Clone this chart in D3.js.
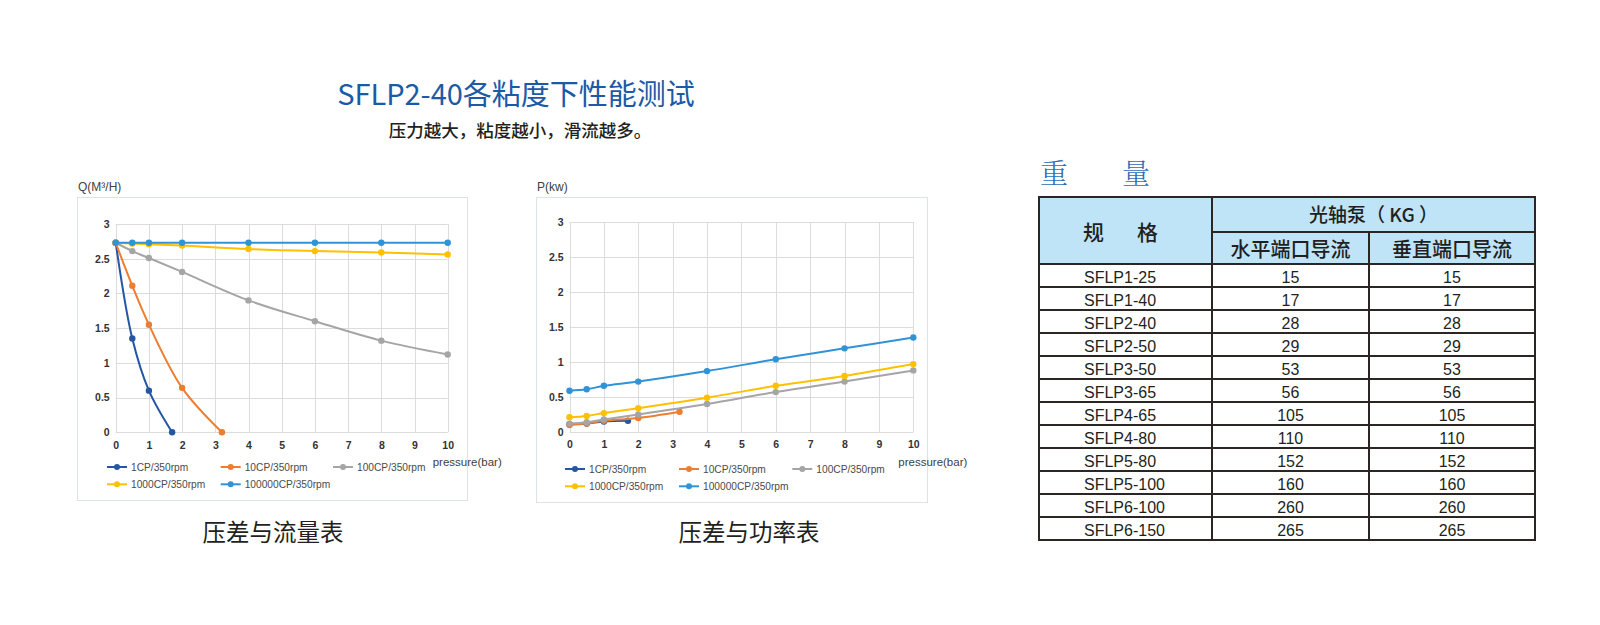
<!DOCTYPE html>
<html>
<head>
<meta charset="utf-8">
<script src="https://cdn.jsdelivr.net/npm/d3@7"></script>
<style>
  body { margin: 0; background: #fff; }
  svg { display: block; }
</style>
</head>
<body>
<svg id="page" width="1600" height="625"></svg>
<script>
(function () {
  "use strict";

  // --- Data ---
  const seriesNames = ["1CP/350rpm", "10CP/350rpm", "100CP/350rpm", "1000CP/350rpm", "100000CP/350rpm"];

  const pressure1CP = [0, 0.5, 1, 1.7];
  const pressure10CP = [0, 0.5, 1, 2, 3.2];
  const pressureFull = [0, 0.5, 1, 2, 4, 6, 8, 10];

  const flow1CP = [2.73, 1.35, 0.6, 0];
  const flow10CP = [2.73, 2.11, 1.55, 0.64, 0];
  const flow100CP = [2.73, 2.61, 2.51, 2.31, 1.9, 1.6, 1.32, 1.12];
  const flow1000CP = [2.73, 2.72, 2.71, 2.69, 2.64, 2.61, 2.59, 2.56];
  const flow100000CP = [2.73, 2.73, 2.73, 2.73, 2.73, 2.73, 2.73, 2.73];

  const power1CP = [0.11, 0.12, 0.15, 0.16];
  const power10CP = [0.1, 0.12, 0.16, 0.2, 0.29];
  const power100CP = [0.12, 0.14, 0.18, 0.25, 0.4, 0.57, 0.72, 0.88];
  const power1000CP = [0.21, 0.23, 0.27, 0.34, 0.49, 0.66, 0.8, 0.97];
  const power100000CP = [0.59, 0.61, 0.66, 0.72, 0.87, 1.04, 1.195, 1.35];

  const xTicks = [0, 1, 2, 3, 4, 5, 6, 7, 8, 9, 10];
  const yTicks = [0, 0.5, 1, 1.5, 2, 2.5, 3];

  const models = ["SFLP1-25", "SFLP1-40", "SFLP2-40", "SFLP2-50", "SFLP3-50", "SFLP3-65",
    "SFLP4-65", "SFLP4-80", "SFLP5-80", "SFLP5-100", "SFLP6-100", "SFLP6-150"];
  const weightHorizontal = [15, 17, 28, 29, 53, 56, 105, 110, 152, 160, 260, 265];
  const weightVertical = [15, 17, 28, 29, 53, 56, 105, 110, 152, 160, 260, 265];

  // --- Styles ---
  const seriesColors = ["#2556a6", "#ed7d31", "#a5a5a5", "#ffc000", "#3093d8"];
  const gridColor = "#dcdcdc";
  const sans = "Arial, 'Liberation Sans', sans-serif";
  const cjk = "'Noto Sans CJK SC', 'Noto Sans', sans-serif";

  const svg = d3.select("#page");

  // --- Headline ---
  svg.append("text")
    .attr("x", 516).attr("y", 95).attr("dy", "0.35em")
    .attr("text-anchor", "middle")
    .attr("font-family", cjk).attr("font-size", 29)
    .attr("fill", "#1b5aa7")
    .text("SFLP2-40各粘度下性能测试");

  svg.append("text")
    .attr("x", 520).attr("y", 131).attr("dy", "0.35em")
    .attr("text-anchor", "middle")
    .attr("font-family", cjk).attr("font-size", 17.5).attr("font-weight", 500)
    .attr("fill", "#231f20")
    .text("压力越大，粘度越小，滑流越多。");

  // --- Line chart ---
  function drawChart(cfg) {
    const g = svg.append("g");

    g.append("rect")
      .attr("x", cfg.frame[0] + 0.5).attr("y", cfg.frame[1] + 0.5)
      .attr("width", cfg.frame[2] - cfg.frame[0]).attr("height", cfg.frame[3] - cfg.frame[1])
      .attr("fill", "#fff").attr("stroke", "#dde1e8");

    const x = d3.scaleLinear().domain([0, 10]).range(cfg.xRange);
    const y = d3.scaleLinear().domain([0, 3]).range(cfg.yRange);

    // grid
    g.append("g").selectAll("line").data(xTicks).join("line")
      .attr("x1", (d) => Math.round(x(d)) + 0.5).attr("x2", (d) => Math.round(x(d)) + 0.5)
      .attr("y1", y(3)).attr("y2", y(0))
      .attr("stroke", gridColor);
    g.append("g").selectAll("line").data(yTicks).join("line")
      .attr("x1", x(0)).attr("x2", x(10))
      .attr("y1", (d) => Math.round(y(d)) + 0.5).attr("y2", (d) => Math.round(y(d)) + 0.5)
      .attr("stroke", gridColor);

    // axes (labels only)
    const xAxis = g.append("g")
      .attr("transform", `translate(0,${y(0) + 6})`)
      .call(d3.axisBottom(x).tickValues(xTicks).tickSize(0).tickFormat(d3.format("d")));
    const yAxis = g.append("g")
      .attr("transform", `translate(${x(0) - 3},0)`)
      .call(d3.axisLeft(y).tickValues(yTicks).tickSize(0).tickFormat((d) => String(d)));
    [xAxis, yAxis].forEach((a) => {
      a.select(".domain").remove();
      a.selectAll("text")
        .attr("font-family", sans).attr("font-size", 10.5).attr("font-weight", "bold")
        .attr("fill", "#333");
    });

    g.append("text")
      .attr("x", cfg.frame[0] + 1).attr("y", cfg.frame[1] - 6)
      .attr("font-family", sans).attr("font-size", 12).attr("fill", "#404040")
      .text(cfg.yLabel);

    g.append("text")
      .attr("x", x(10) - 15).attr("y", y(0) + 30).attr("dy", "0.35em")
      .attr("font-family", sans).attr("font-size", 11.5).attr("fill", "#404040")
      .text("pressure(bar)");

    // series
    const line = d3.line()
      .x((d) => x(d[0])).y((d) => y(d[1]))
      .curve(d3.curveCatmullRom.alpha(0.5));

    cfg.series.forEach((s, i) => {
      const pts = s.px.map((p, j) => [p, s.values[j]]);
      const sg = g.append("g");
      sg.append("path")
        .attr("d", line(pts))
        .attr("fill", "none")
        .attr("stroke", seriesColors[i])
        .attr("stroke-width", 2);
      sg.selectAll("circle").data(pts).join("circle")
        .attr("cx", (d) => x(d[0])).attr("cy", (d) => y(d[1]))
        .attr("r", 3.2)
        .attr("fill", seriesColors[i]);
    });

    // legend: three per row
    const lg = g.append("g");
    seriesNames.forEach((name, i) => {
      const lx = cfg.legendCols[i % 3];
      const ly = cfg.legendRows[Math.floor(i / 3)];
      lg.append("line")
        .attr("x1", lx).attr("x2", lx + 20).attr("y1", ly).attr("y2", ly)
        .attr("stroke", seriesColors[i]).attr("stroke-width", 2);
      lg.append("circle")
        .attr("cx", lx + 10).attr("cy", ly).attr("r", 3)
        .attr("fill", seriesColors[i]);
      lg.append("text")
        .attr("x", lx + 24).attr("y", ly).attr("dy", "0.35em")
        .attr("font-family", sans).attr("font-size", 10.2).attr("fill", "#4a4a4a")
        .text(name);
    });

    svg.append("text")
      .attr("x", cfg.captionX).attr("y", 533).attr("dy", "0.35em")
      .attr("text-anchor", "middle")
      .attr("font-family", cjk).attr("font-size", 23.5)
      .attr("fill", "#231f20")
      .text(cfg.caption);
  }

  drawChart({
    frame: [77, 197, 467, 500],
    xRange: [115.7, 447.7],
    yRange: [432.3, 224],
    yLabel: "Q(M³/H)",
    caption: "压差与流量表",
    captionX: 273,
    legendCols: [107, 220.7, 333],
    legendRows: [467, 484.3],
    series: [
      { px: pressure1CP, values: flow1CP },
      { px: pressure10CP, values: flow10CP },
      { px: pressureFull, values: flow100CP },
      { px: pressureFull, values: flow1000CP },
      { px: pressureFull, values: flow100000CP },
    ],
  });

  drawChart({
    frame: [536, 197, 927, 502],
    xRange: [569.5, 913.3],
    yRange: [432, 222],
    yLabel: "P(kw)",
    caption: "压差与功率表",
    captionX: 749,
    legendCols: [565, 679, 792.3],
    legendRows: [469, 486.3],
    series: [
      { px: pressure1CP, values: power1CP },
      { px: pressure10CP, values: power10CP },
      { px: pressureFull, values: power100CP },
      { px: pressureFull, values: power1000CP },
      { px: pressureFull, values: power100000CP },
    ],
  });

  // --- Weight table ---
  const colX = [1039, 1212, 1369, 1535];
  const top = 197;
  const head1 = 35;
  const head2 = 32;
  const rowH = 23;
  const bodyTop = top + head1 + head2;
  const bottom = bodyTop + rowH * models.length;
  const border = "#2b2523";
  const headFill = "#bfe4f8";

  const tg = svg.append("g");

  tg.append("text")
    .attr("x", 1040).attr("y", 174).attr("dy", "0.35em")
    .attr("font-family", "'Noto Serif CJK SC', " + cjk).attr("font-size", 28).attr("font-weight", 300)
    .attr("fill", "#2d6db6")
    .text("重");
  tg.append("text")
    .attr("x", 1122).attr("y", 174).attr("dy", "0.35em")
    .attr("font-family", "'Noto Serif CJK SC', " + cjk).attr("font-size", 28).attr("font-weight", 300)
    .attr("fill", "#2d6db6")
    .text("量");

  tg.append("rect")
    .attr("x", colX[0]).attr("y", top)
    .attr("width", colX[3] - colX[0]).attr("height", head1 + head2)
    .attr("fill", headFill);

  // horizontal rules
  const ruleYs = [top, bodyTop].concat(models.map((_, i) => bodyTop + rowH * (i + 1)));
  tg.selectAll("line.h").data(ruleYs).join("line")
    .attr("class", "h")
    .attr("x1", colX[0]).attr("x2", colX[3])
    .attr("y1", (d) => d).attr("y2", (d) => d)
    .attr("stroke", border).attr("stroke-width", 2);
  tg.append("line")
    .attr("x1", colX[1]).attr("x2", colX[3])
    .attr("y1", top + head1).attr("y2", top + head1)
    .attr("stroke", border).attr("stroke-width", 2);

  // vertical rules
  [colX[0], colX[1], colX[3]].forEach((cx) => {
    tg.append("line")
      .attr("x1", cx).attr("x2", cx).attr("y1", top - 1).attr("y2", bottom + 1)
      .attr("stroke", border).attr("stroke-width", 2);
  });
  tg.append("line")
    .attr("x1", colX[2]).attr("x2", colX[2]).attr("y1", top + head1).attr("y2", bottom)
    .attr("stroke", border).attr("stroke-width", 2);

  // header text
  const headText = (txt, x, y, size, anchor) => tg.append("text")
    .attr("x", x).attr("y", y).attr("dy", "0.35em")
    .attr("text-anchor", anchor || "middle")
    .attr("font-family", cjk).attr("font-size", size).attr("font-weight", 500)
    .attr("fill", "#231f20")
    .text(txt);
  headText("规", 1083, top + (head1 + head2) / 2 + 2, 21, "start");
  headText("格", 1137, top + (head1 + head2) / 2 + 2, 21, "start");
  headText("光轴泵（ KG ）", (colX[1] + colX[3]) / 2, top + head1 / 2 + 1, 19);
  headText("水平端口导流", (colX[1] + colX[2]) / 2, top + head1 + head2 / 2 + 2, 20);
  headText("垂直端口导流", (colX[2] + colX[3]) / 2, top + head1 + head2 / 2 + 2, 20);

  // body text
  const rowY = (i) => bodyTop + rowH * i + rowH / 2 + 2;
  const bodyStyle = (sel) => sel
    .attr("dy", "0.35em")
    .attr("font-family", sans).attr("font-size", 16)
    .attr("fill", "#231f20");

  tg.append("g").selectAll("text").data(models).join("text")
    .attr("x", 1084).attr("y", (_, i) => rowY(i))
    .call(bodyStyle)
    .text((d) => d);
  tg.append("g").selectAll("text").data(weightHorizontal).join("text")
    .attr("x", (colX[1] + colX[2]) / 2).attr("y", (_, i) => rowY(i))
    .attr("text-anchor", "middle")
    .call(bodyStyle)
    .text((d) => d);
  tg.append("g").selectAll("text").data(weightVertical).join("text")
    .attr("x", (colX[2] + colX[3]) / 2).attr("y", (_, i) => rowY(i))
    .attr("text-anchor", "middle")
    .call(bodyStyle)
    .text((d) => d);
})();
</script>
</body>
</html>
